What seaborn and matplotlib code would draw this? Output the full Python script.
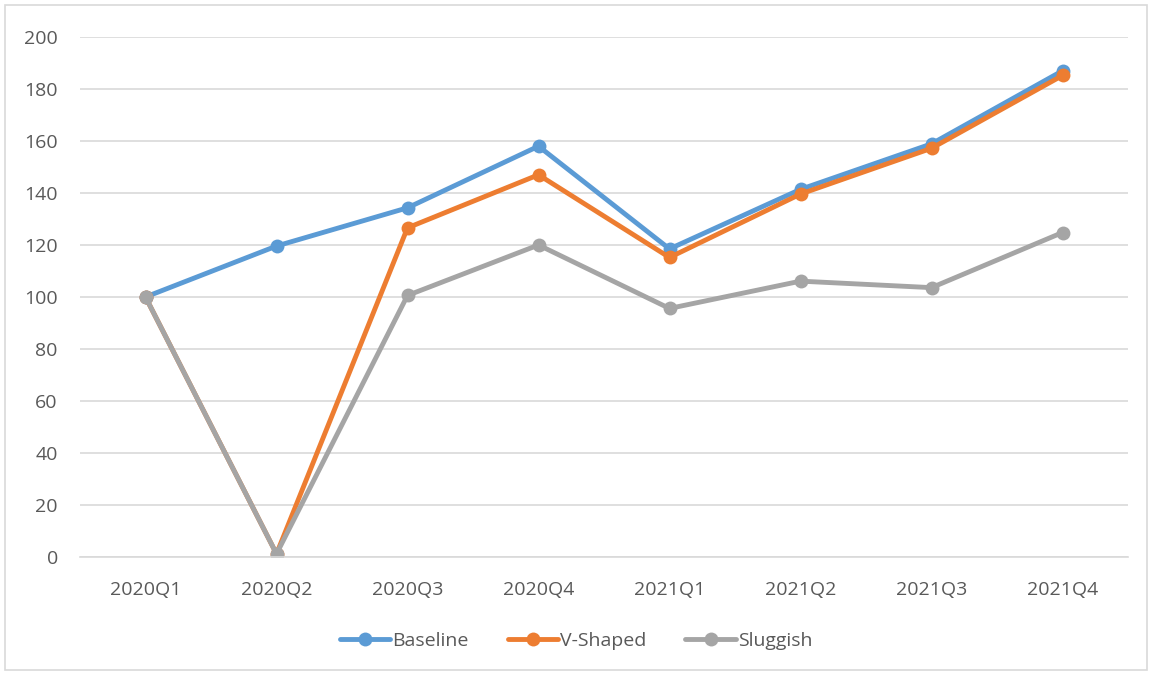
import matplotlib.pyplot as plt
import seaborn as sns
import pandas as pd
from matplotlib.patches import Rectangle

quarters = ['2020Q1', '2020Q2', '2020Q3', '2020Q4', '2021Q1', '2021Q2', '2021Q3', '2021Q4']
baseline = [100, 119.6, 134.3, 158.0, 118.5, 141.4, 158.9, 187.0]
v_shaped = [100, 1.2, 126.6, 147.0, 115.2, 139.6, 157.2, 185.2]
sluggish = [100, 1.2, 100.6, 120.0, 95.6, 106.1, 103.6, 124.8]

series_names = ['Baseline', 'V-Shaped', 'Sluggish']
colors = ['#5B9BD5', '#ED7D31', '#A5A5A5']

df = pd.DataFrame({
    'quarter': quarters * 3,
    'value': baseline + v_shaped + sluggish,
    'series': [s for s in series_names for _ in quarters],
})

sns.set_style('white')
plt.rcParams['font.family'] = ['Open Sans', 'DejaVu Sans']
text_color = '#595959'

fig = plt.figure(figsize=(11.52, 6.75), dpi=100)
ax = fig.add_axes([80 / 1152, 1 - 557 / 675, 1048 / 1152, 520 / 675])

sns.lineplot(data=df, x='quarter', y='value', hue='series', hue_order=series_names,
             palette=colors, marker='o', markersize=10, markeredgewidth=0,
             linewidth=3.5, sort=False, ax=ax, legend=True)

ax.set_xlim(-0.5, len(quarters) - 0.5)
ax.set_ylim(0, 200)
ax.set_yticks(range(0, 201, 20))
ax.yaxis.grid(True, color='#D9D9D9', linewidth=1.2)
ax.set_axisbelow(True)
for side in ['top', 'right', 'left']:
    ax.spines[side].set_visible(False)
ax.spines['bottom'].set_color('#D9D9D9')
ax.spines['bottom'].set_linewidth(1.2)
ax.tick_params(axis='both', length=0, labelsize=14, colors=text_color)
ax.tick_params(axis='x', pad=17)
ax.tick_params(axis='y', pad=16)
ax.set_xlabel('')
ax.set_ylabel('')

handles, labels = ax.get_legend_handles_labels()
ax.legend_.remove()
fig.legend(handles, labels, loc='center', bbox_to_anchor=(0.5, 1 - 641 / 675), ncol=3,
           frameon=False, fontsize=14, labelcolor=text_color, handlelength=2.6,
           handletextpad=0.1, columnspacing=2.0)

fig.patches.append(Rectangle((5 / 1152, 5 / 675), 1142 / 1152, 665 / 675,
                             transform=fig.transFigure, fill=False,
                             edgecolor='#D9D9D9', linewidth=1.2))

fig.savefig('out.png', dpi=100)
